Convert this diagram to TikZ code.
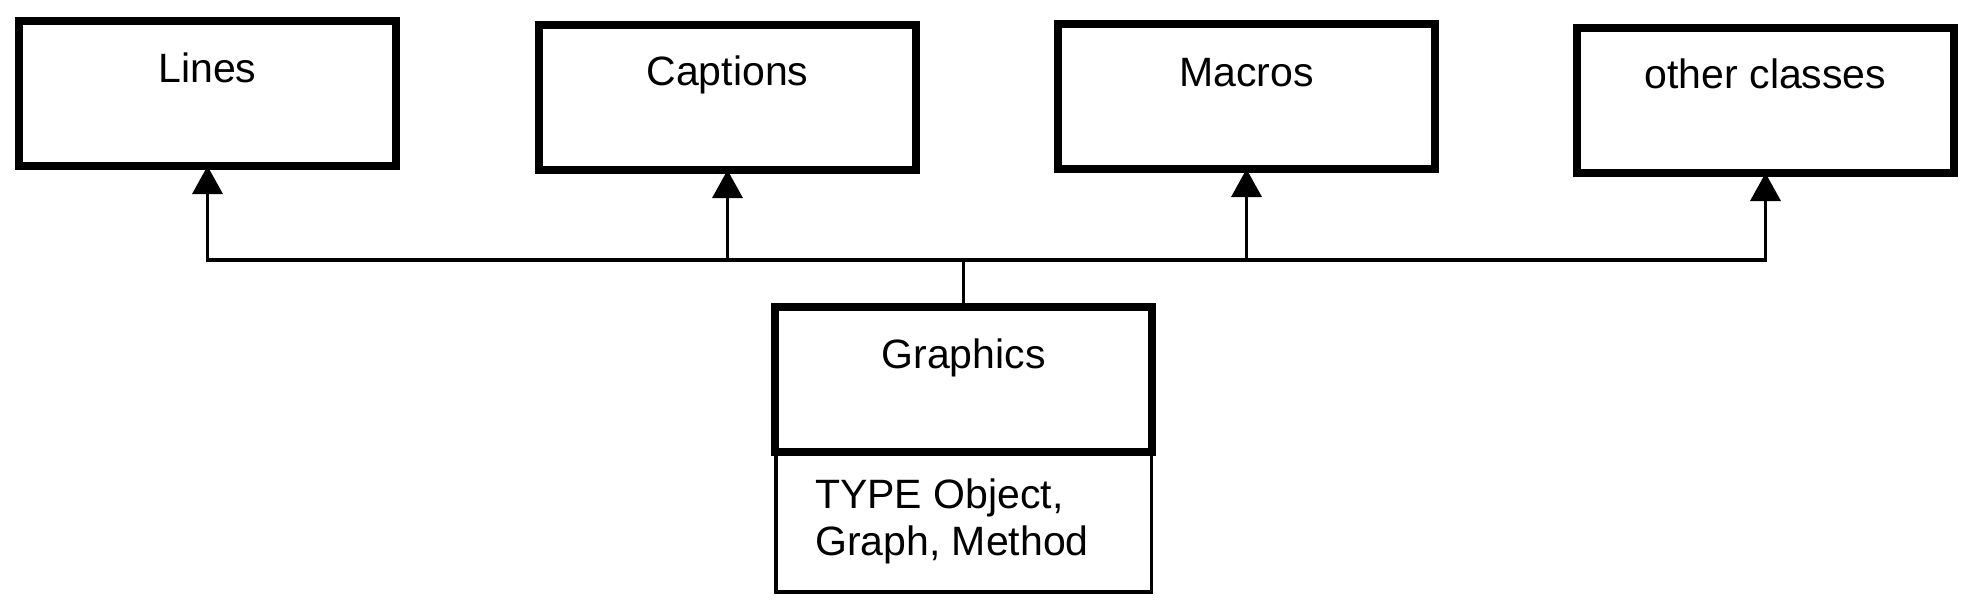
\documentclass[tikz,border=0pt]{standalone}
\usepackage{fontspec}
\setmainfont{Liberation Sans}
\usetikzlibrary{arrows.meta,calc}
\begin{document}
\begin{tikzpicture}[x=1pt,y=-1pt,
  classbox/.style={draw, line width=8pt, rectangle, inner sep=0pt,
    minimum width=377pt, minimum height=145pt, anchor=north west},
  attrbox/.style={draw, line width=3.5pt, rectangle, inner sep=0pt,
    minimum width=375.5pt, minimum height=140pt, anchor=north west},
  lbl/.style={inner sep=0pt, font=\fontsize{41}{47}\selectfont, anchor=base},
  conn/.style={line width=3.5pt},
  inh/.style={line width=3.5pt, shorten >=-4pt, -{Triangle[width=30pt,length=28pt]}}
]
\useasboundingbox (0,0) rectangle (1974,616);

% top classes (anchor = outer edge of the stroke)
\node[classbox] (lines) at (15,17) {};
\node[classbox] (captions) at (535,21) {};
\node[classbox] (macros) at (1054,20) {};
\node[classbox] (other) at (1573,24) {};

\node[lbl] (linesT) at ($(lines.center)+(0,-11)$) {Lines};
\node[lbl] (captionsT) at ($(captions.center)+(0,-12)$) {Captions};
\node[lbl] (macrosT) at ($(macros.center)+(0,-10)$) {Macros};
\node[lbl] (otherT) at ($(other.center)+(0,-12)$) {other classes};

% Graphics class with attribute compartment
\node[attrbox] (attrs) at (774.25,450.25) {};
\node[classbox] (graphics) at (771,303) {};
\node[lbl] (graphicsT) at ($(graphics.center)+(0,-11)$) {Graphics};
\node[lbl, anchor=base west] (attrT1) at (815,508) {TYPE Object,};
\node[lbl, anchor=base west] (attrT2) at (815,555) {Graph, Method};

% connectors
\coordinate (hub) at (graphics.north |- 0,260);
\coordinate (jl) at (lines.south |- 0,260);
\coordinate (jc) at (captions.south |- 0,260);
\coordinate (jm) at (macros.south |- 0,260);
\coordinate (jo) at (other.south |- 0,260);

\draw[conn] (graphics.north) -- (hub);
\draw[conn, line cap=rect] (jl) -- (jo);
\draw[inh] (jl) -- (lines.south);
\draw[inh] (jc) -- (captions.south);
\draw[inh] (jm) -- (macros.south);
\draw[inh] (jo) -- (other.south);
\end{tikzpicture}
\end{document}
